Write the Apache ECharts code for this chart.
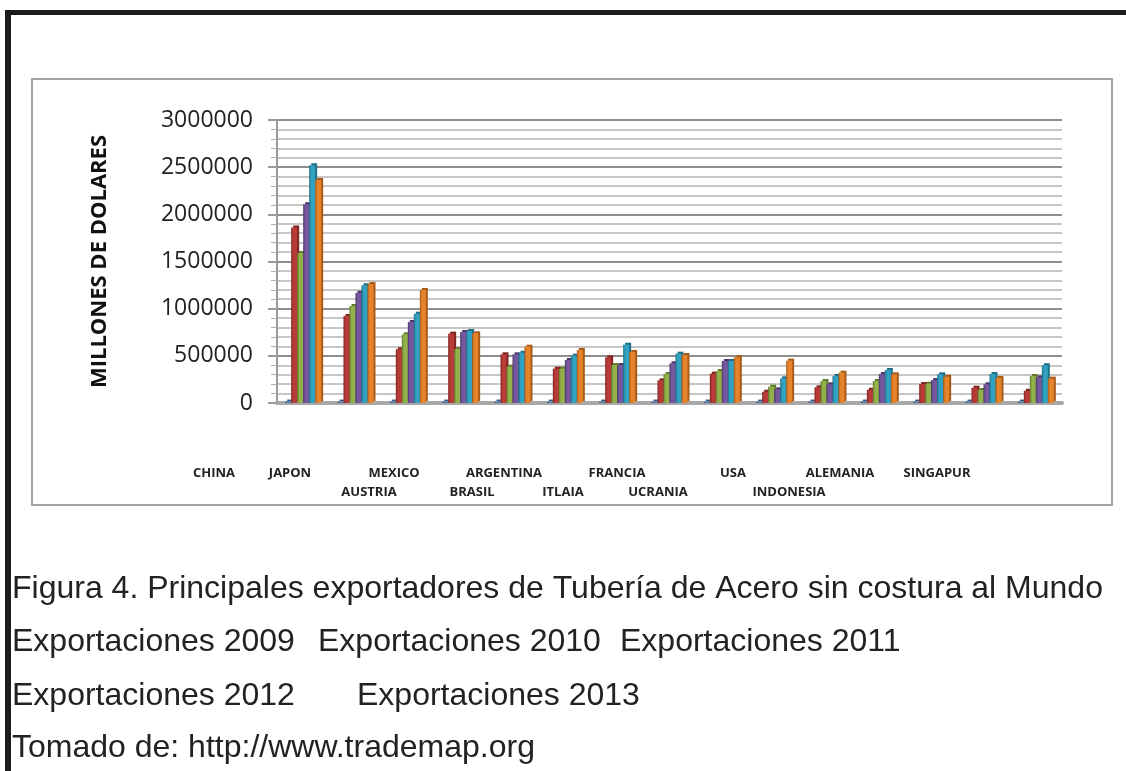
<!DOCTYPE html>
<html><head><meta charset="utf-8">
<script src="https://cdn.jsdelivr.net/npm/echarts@6/dist/echarts.min.js"></script>
<style>html,body{margin:0;padding:0;background:#fff}#c{width:1126px;height:771px}</style>
</head><body><div id="c"></div>
<script>
// ---- data ----
const categories = ['CHINA','JAPON','AUSTRIA','MEXICO','BRASIL','ARGENTINA','ITLAIA','FRANCIA','UCRANIA','USA','INDONESIA','ALEMANIA','SINGAPUR',' ','  '];
const seriesNames = ['Serie 1','Exportaciones 2009','Exportaciones 2010','Exportaciones 2011','Exportaciones 2012','Exportaciones 2013'];
const serie1  = [15000,15000,15000,15000,15000,15000,15000,15000,15000,15000,15000,15000,15000,15000,15000];
const exp2009 = [1860000, 922000, 570000, 735000, 516000, 364000, 484000, 240000, 311000, 120000, 166000, 141000, 201000, 162000, 130000];
const exp2010 = [1590000,1028000, 728000, 572000, 385000, 364000, 403000, 307000, 339000, 173000, 233000, 233000, 205000, 138000, 286000];
const exp2011 = [2106000,1169000, 859000, 753000, 516000, 456000, 403000, 421000, 445000, 145000, 198000, 307000, 244000, 198000, 272000];
const exp2012 = [2520000,1248000, 947000, 763000, 533000, 502000, 618000, 523000, 445000, 262000, 286000, 350000, 304000, 307000, 400000];
const exp2013 = [2364000,1261000,1198000, 739000, 597000, 562000, 541000, 509000, 484000, 449000, 322000, 304000, 279000, 265000, 258000];
const yAxisTitle = 'MILLONES DE DOLARES';
const captionLines = [
  ['Figura 4. Principales exportadores de Tubería de Acero sin costura al Mundo'],
  ['Exportaciones 2009','Exportaciones 2010','Exportaciones 2011'],
  ['Exportaciones 2012','Exportaciones 2013'],
  ['Tomado de: http://www.trademap.org']
];

// ---- layout / style (not data) ----
const seriesValues = [serie1, exp2009, exp2010, exp2011, exp2012, exp2013];
const palette = [
  ['#4a76ad','#2f5687'],
  ['#b83b37','#7e2421'],
  ['#92b14a','#617a2c'],
  ['#75589e','#4d376d'],
  ['#31a2c2','#1f6f86'],
  ['#e6842b','#a85a17']
];
// category label placement (pixel centres, two staggered rows)
const labelLayout = {
  'CHINA':[214,0],'JAPON':[290,0],'AUSTRIA':[369,1],'MEXICO':[394,0],'BRASIL':[472,1],
  'ARGENTINA':[504,0],'ITLAIA':[563,1],'FRANCIA':[617,0],'UCRANIA':[658,1],'USA':[733,0],
  'INDONESIA':[789,1],'ALEMANIA':[840,0],'SINGAPUR':[937,0]
};
const captionX = [[12],[12,318,620],[12,357],[12]];
const captionY = [589,642,696,748];

const chart = echarts.init(document.getElementById('c'), null, {renderer:'canvas'});

const series = seriesValues.map((vals, i) => ({
  name: seriesNames[i],
  type: 'bar',
  data: vals,
  barWidth: 6,
  barGap: '0%',
  itemStyle: {
    color: new echarts.graphic.LinearGradient(0,0,1,0,[
      {offset:0,color:palette[i][1]},{offset:0.35,color:palette[i][0]},{offset:1,color:palette[i][0]}
    ]),
    shadowColor: palette[i][1],
    shadowOffsetX: 2,
    shadowOffsetY: -2,
    shadowBlur: 0
  },
  animation: false
}));

const graphics = [
  {type:'rect', shape:{x:5,y:10,width:1121,height:5}, style:{fill:'#1c1c1c'}, z:100},
  {type:'rect', shape:{x:5,y:10,width:6,height:761}, style:{fill:'#1c1c1c'}, z:100},
  {type:'rect', shape:{x:32,y:79,width:1080,height:426}, style:{fill:'none',stroke:'#a3a3a3',lineWidth:2}, z:100}
];
categories.forEach(c => {
  const p = labelLayout[c];
  if (!p) return;
  graphics.push({type:'text', x:p[0], y: p[1] ? 492 : 473, z:100,
    style:{text:c, fill:'#222', font:'bold 13px "Open Sans"', textAlign:'center', textVerticalAlign:'middle'}});
});
captionLines.forEach((line, r) => {
  line.forEach((t, k) => {
    graphics.push({type:'text', x:captionX[r][k], y:captionY[r], z:100,
      style:{text:t, fill:'#222', font:'32px "Liberation Sans", Arial, sans-serif', textAlign:'left', textVerticalAlign:'middle'}});
  });
});

chart.setOption({
  animation: false,
  backgroundColor: '#fff',
  grid: {left:277, right:64, top:120, bottom:368, containLabel:false},
  xAxis: {
    type:'category', data: categories,
    axisLine:{show:true, lineStyle:{color:'#a8a8a8', width:4}},
    axisTick:{show:false}, axisLabel:{show:false}, splitLine:{show:false}
  },
  yAxis: {
    type:'value', min:0, max:3000000, interval:500000,
    name: yAxisTitle, nameLocation:'middle', nameRotate:90, nameGap:166,
    nameTextStyle:{fontFamily:'Open Sans', fontWeight:'bold', fontSize:22, color:'#111'},
    axisLine:{show:true, lineStyle:{color:'#9a9a9a', width:2}},
    axisTick:{show:true, length:9, lineStyle:{color:'#9a9a9a', width:2}},
    minorTick:{show:true, splitNumber:5, length:6, lineStyle:{color:'#b0b0b0', width:1}},
    axisLabel:{fontFamily:'Open Sans', fontSize:23, color:'#222', margin:24, formatter: v => String(v)},
    splitLine:{show:true, lineStyle:{color:'#8e8e8e', width:2}},
    minorSplitLine:{show:true, lineStyle:{color:'#c6c6c6', width:2}}
  },
  series: series,
  graphic: graphics
});
</script></body></html>
